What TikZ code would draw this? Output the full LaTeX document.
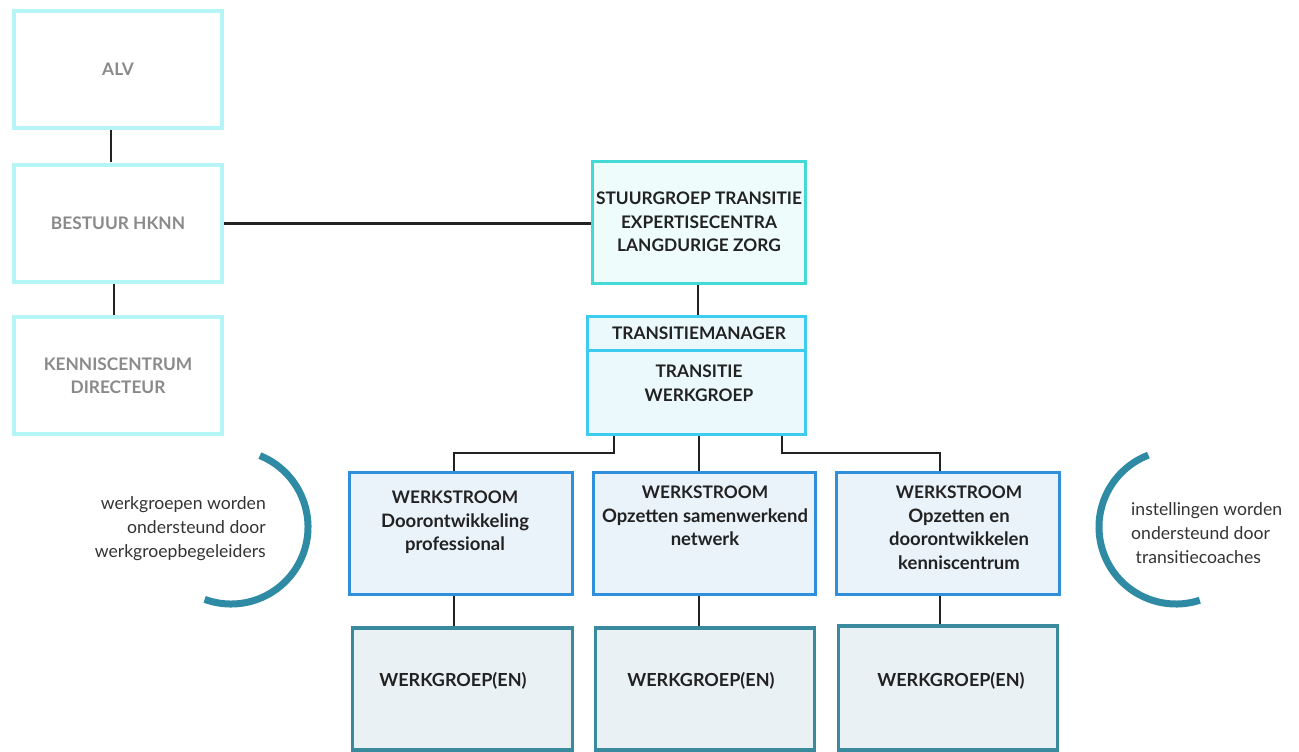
\documentclass[tikz,border=0pt]{standalone}
\usepackage{fontspec}
\setmainfont{Lato}
\newcommand{\lw}{\fontsize{18.5}{24}\selectfont}
\begin{document}
\begin{tikzpicture}[x=1pt,y=-1pt,
  lgt/.style={draw=cyanlt, fill=white, line width=3.5pt, inner sep=0pt, minimum width=208pt, minimum height=117pt, text=greytx, font=\bfseries\fontsize{17.3}{23}\selectfont, align=center},
  txt/.style={font=\bfseries\fontsize{17.3}{23.5}\selectfont, text=darktx, align=center, inner sep=0pt, anchor=north},
  side/.style={font=\fontsize{17.6}{24}\selectfont, text=sidetx, inner sep=0pt},
  conn/.style={draw=darktx, line width=2pt},
  arcst/.style={draw=arcc, line width=7pt}
]
\definecolor{cyanlt}{HTML}{B5F5F5}
\definecolor{greytx}{HTML}{8A8A8A}
\definecolor{darktx}{HTML}{222222}
\definecolor{sidetx}{HTML}{333333}
\definecolor{stb}{HTML}{45D9D6}\definecolor{stf}{HTML}{EFFCFC}
\definecolor{trb}{HTML}{3DCBEF}\definecolor{trf}{HTML}{EBF9FD}
\definecolor{wsb}{HTML}{2F8FDB}\definecolor{wsf}{HTML}{EAF2FA}
\definecolor{wgb}{HTML}{3A8A9E}\definecolor{wgf}{HTML}{EAF1F5}
\definecolor{arcc}{HTML}{2E8BA3}
\useasboundingbox (0,0) rectangle (1299,752);

% left column
\node[lgt] (alv) at (118,69.5) {ALV};
\node[lgt] (bestuur) at (118,223.5) {BESTUUR HKNN};
\node[lgt] (kc) at (118,375.5) {KENNISCENTRUM\\DIRECTEUR};
\draw[conn] (111,130) -- (111,162);
\draw[conn] (114,284) -- (114,315);

% stuurgroep
\node[draw=stb, fill=stf, line width=3.5pt, minimum width=213pt, minimum height=122pt, inner sep=0pt] (stuur) at (699,222.5) {};
\node[txt, anchor=center] (stuurt) at (699,222) {STUURGROEP TRANSITIE\\EXPERTISECENTRA\\LANGDURIGE ZORG};
\draw[darktx, line width=3.5pt] (bestuur.east) -- (stuur.west |- bestuur.east);

% transitie
\node[draw=trb, fill=trf, line width=3.5pt, minimum width=218pt, minimum height=118pt, inner sep=0pt] (trans) at (696.5,375.5) {};
\draw[trb, line width=3pt] (trans.west |- 0,350) -- (trans.east |- 0,350);
\node[txt, anchor=center] (tm) at (699,333) {TRANSITIEMANAGER};
\node[txt, anchor=center] (tw) at (699,383) {TRANSITIE\\WERKGROEP};
\draw[conn] (stuur.south -| 698,0) -- (trans.north -| 698,0);

% werkstroom boxes
\node[draw=wsb, fill=wsf, line width=3.5pt, minimum width=223pt, minimum height=122pt, inner sep=0pt] (ws1) at (461,533.5) {};
\node[draw=wsb, fill=wsf, line width=3.5pt, minimum width=222pt, minimum height=122pt, inner sep=0pt] (ws2) at (704.5,533.5) {};
\node[draw=wsb, fill=wsf, line width=3.5pt, minimum width=223pt, minimum height=122pt, inner sep=0pt] (ws3) at (948,533.5) {};
\node[txt] (ws1t) at (455,491) {WERKSTROOM\\{\lw Doorontwikkeling}\\{\lw professional}};
\node[txt] (ws2t) at (705,486) {WERKSTROOM\\{\lw Opzetten samenwerkend}\\{\lw netwerk}};
\node[txt] (ws3t) at (959,486) {WERKSTROOM\\{\lw Opzetten en}\\{\lw doorontwikkelen}\\{\lw kenniscentrum}};

% connectors from transitie
\draw[darktx, line width=1.5pt] (trans.south -| 614,0) -- (614,453) -- (454,453) -- (ws1.north -| 454,0);
\draw[darktx, line width=2.5pt] (trans.south -| 699,0) -- (ws2.north -| 699,0);
\draw[darktx, line width=1.5pt] (trans.south -| 782,0) -- (782,453) -- (940,453) -- (ws3.north -| 940,0);

% werkgroep boxes
\node[draw=wgb, fill=wgf, line width=3.5pt, minimum width=220pt, minimum height=122pt, inner sep=0pt] (wg1) at (462.5,689) {};
\node[draw=wgb, fill=wgf, line width=3.5pt, minimum width=219pt, minimum height=122pt, inner sep=0pt] (wg2) at (705,689) {};
\node[draw=wgb, fill=wgf, line width=3.5pt, minimum width=219pt, minimum height=124pt, inner sep=0pt] (wg3) at (948,688) {};
\node[txt, anchor=center, font=\bfseries\fontsize{18}{24}\selectfont] (wg1t) at (453,681) {WERKGROEP(EN)};
\node[txt, anchor=center, font=\bfseries\fontsize{18}{24}\selectfont] (wg2t) at (701,681) {WERKGROEP(EN)};
\node[txt, anchor=center, font=\bfseries\fontsize{18}{24}\selectfont] (wg3t) at (951,681) {WERKGROEP(EN)};
\draw[conn, line width=2.5pt] (ws1.south -| 454,0) -- (wg1.north -| 454,0);
\draw[conn, line width=2.5pt] (ws2.south -| 699,0) -- (wg2.north -| 699,0);
\draw[conn, line width=2.5pt] (ws3.south -| 940,0) -- (wg3.north -| 940,0);

% arcs and side notes
\draw[arcst] ({231+77*cos(68)},{527-77*sin(68)}) arc[start angle=-68, end angle=110, radius=77];
\draw[arcst] ({1176+77*cos(111)},{527-77*sin(111)}) arc[start angle=-111, end angle=-288, radius=77];
\node[side, align=right, anchor=east] (lnote) at (266,529) {werkgroepen worden\\ondersteund door\\werkgroepbegeleiders};
\node[side, align=left, anchor=west] (rnote) at (1131,533) {instellingen worden\\ondersteund door\\\ transitiecoaches};
\end{tikzpicture}
\end{document}
